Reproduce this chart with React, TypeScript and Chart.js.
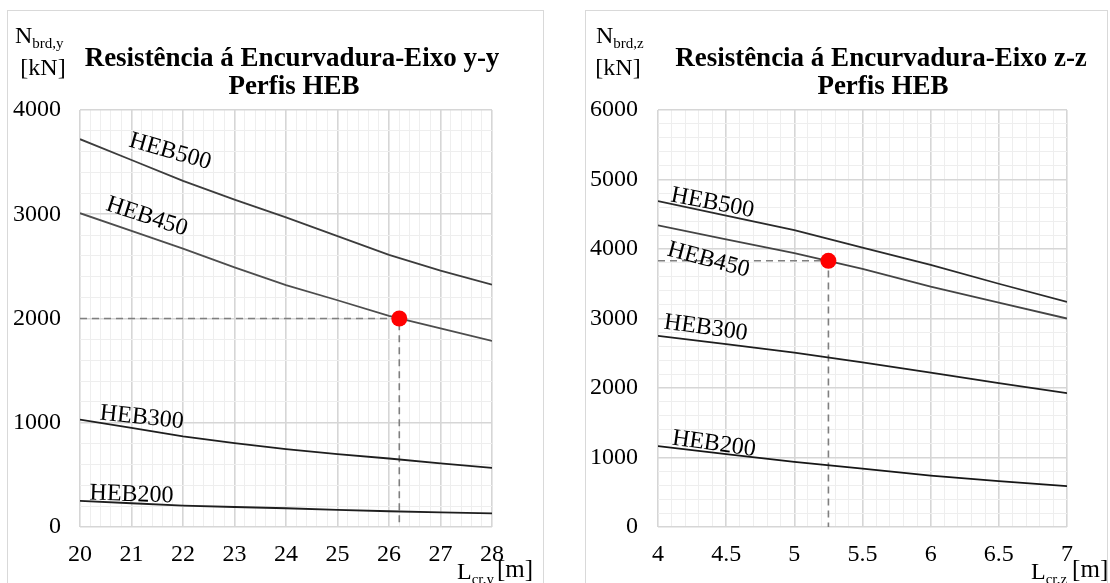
import React, { useEffect, useRef } from "react";
import { Chart, registerables } from "chart.js";
Chart.register(...registerables);

const FONT = "'Liberation Serif', 'Times New Roman', serif";

// ---------- Left chart: buckling about y-y ----------
const rangeLy = [20, 28];
const lengthsY = [20, 21, 22, 23, 24, 25, 26, 27, 28];
const heb500Y = [3720, 3520, 3320, 3140, 2970, 2790, 2610, 2460, 2325];
const heb450Y = [3010, 2840, 2670, 2490, 2320, 2175, 2025, 1905, 1785];
const heb300Y = [1030, 950, 870, 805, 747, 700, 657, 610, 567];
const heb200Y = [250, 228, 205, 192, 180, 165, 151, 141, 131];
const markerLy = [26.2];
const markerNy = [2000];
const rangeNy = [0, 4000];

// ---------- Right chart: buckling about z-z ----------
const rangeLz = [4, 7];
const lengthsZ = [4, 4.5, 5, 5.5, 6, 6.5, 7];
const heb500Z = [4690, 4480, 4270, 4020, 3770, 3500, 3240];
const heb450Z = [4340, 4140, 3940, 3715, 3460, 3230, 3000];
const heb300Z = [2750, 2630, 2510, 2370, 2220, 2070, 1925];
const heb200Z = [1165, 1050, 937, 840, 740, 660, 587];
const markerLz = [5.25];
const markerNz = [3830];
const rangeNz = [0, 6000];

// ---------- Series labels (names + anchor in data units + angle) ----------
const seriesNames = ["HEB500", "HEB450", "HEB300", "HEB200"];
const labelLy = [21.75, 21.3, 21.2, 21.0];
const labelNy = [3600, 2975, 1050, 310];
const labelAngY = [16, 18, 6, 2];
const labelLz = [4.4, 4.37, 4.35, 4.41];
const labelNz = [4662, 3842, 2863, 1194];
const labelAngZ = [11, 15, 8, 8];

const titleY = ["Resistência á Encurvadura-Eixo y-y", "Perfis HEB"];
const titleZ = ["Resistência á Encurvadura-Eixo z-z", "Perfis HEB"];

const seriesColorsY = ["#3c3c3c", "#4d4d4d", "#1e1e1e", "#1e1e1e"];
const seriesColorsZ = ["#2a2a2a", "#444444", "#1e1e1e", "#161616"];

function pts(xs: number[], ys: number[]) {
  return xs.map((x, i) => ({ x, y: ys[i] }));
}

function drawSub(ctx: CanvasRenderingContext2D, x: number, y: number, main: string, sub: string, after: string, gap: number) {
  ctx.font = `24px ${FONT}`;
  ctx.textAlign = "left";
  ctx.textBaseline = "alphabetic";
  ctx.fillText(main, x, y);
  const w1 = ctx.measureText(main).width;
  ctx.font = `15px ${FONT}`;
  ctx.fillText(sub, x + w1, y + 5);
  const w2 = ctx.measureText(sub).width;
  if (after) {
    ctx.font = `25px ${FONT}`;
    ctx.fillText(after, x + w1 + w2 + gap, y - 2);
  }
}

type Opts = {
  xsArr: number[];
  series: number[][];
  colors: string[];
  xRange: number[];
  yRange: number[];
  xStep: number;
  xMajor: number;
  markerX: number[];
  markerY: number[];
  labX: number[];
  labY: number[];
  labA: number[];
  title: string[];
  titleCx: number;
  areaLeft: number;
  areaRight: number;
  yPad: number;
  box: number[];
  nLabel: { x: number; sub: string; kx: number };
  lLabel: { x: number; sub: string; after: string; gap: number };
};

function buildConfig(o: Opts): any {
  const isMajorX = (v: number) => Math.abs(v / o.xMajor - Math.round(v / o.xMajor)) < 1e-6;
  const isMajorY = (v: number) => Math.abs(v / 1000 - Math.round(v / 1000)) < 1e-6;
  const datasets: any[] = o.series.map((s, i) => ({
    label: seriesNames[i],
    data: pts(o.xsArr, s),
    borderColor: o.colors[i],
    borderWidth: 1.8,
    pointRadius: 0,
    tension: 0,
    fill: false,
    order: 2,
  }));
  datasets.push({
    label: "ref",
    data: [
      { x: o.xRange[0], y: o.markerY[0] },
      { x: o.markerX[0], y: o.markerY[0] },
      { x: o.markerX[0], y: o.yRange[0] },
    ],
    borderColor: "#7f7f7f",
    borderWidth: 1.6,
    borderDash: [7, 5],
    pointRadius: 0,
    fill: false,
    order: 3,
  });
  datasets.push({
    label: "marker",
    data: pts(o.markerX, o.markerY),
    showLine: false,
    pointRadius: 8,
    pointBackgroundColor: "#ff0000",
    pointBorderWidth: 0,
    pointBorderColor: "#ff0000",
    order: 0,
  });

  const decor = {
    id: "decor",
    beforeDraw(chart: any) {
      const ctx = chart.ctx;
      ctx.save();
      ctx.strokeStyle = "#d9d9d9";
      ctx.lineWidth = 1;
      ctx.strokeRect(o.box[0], o.box[1], o.box[2], o.box[3]);
      ctx.restore();
    },
    afterDraw(chart: any) {
      const ctx = chart.ctx;
      const xs = chart.scales.x;
      const ys = chart.scales.y;
      ctx.save();
      ctx.fillStyle = "#000";
      // title
      ctx.font = `bold 27px ${FONT}`;
      ctx.textAlign = "center";
      ctx.textBaseline = "alphabetic";
      ctx.fillText(o.title[0], o.titleCx, 66);
      ctx.fillText(o.title[1], o.titleCx + 2, 94);
      // y-axis name
      drawSub(ctx, o.nLabel.x, 43, "N", o.nLabel.sub, "", 0);
      ctx.font = `24px ${FONT}`;
      ctx.textAlign = "center";
      ctx.fillText("[kN]", o.nLabel.kx, 75);
      // x-axis name
      drawSub(ctx, o.lLabel.x, 579, "L", o.lLabel.sub, o.lLabel.after, o.lLabel.gap);
      // series labels
      ctx.font = `24px ${FONT}`;
      ctx.textAlign = "center";
      ctx.textBaseline = "middle";
      seriesNames.forEach((name, i) => {
        ctx.save();
        ctx.translate(xs.getPixelForValue(o.labX[i]), ys.getPixelForValue(o.labY[i]));
        ctx.rotate((o.labA[i] * Math.PI) / 180);
        ctx.fillText(name, 0, 0);
        ctx.restore();
      });
      ctx.restore();
    },
  };

  return {
    type: "line",
    data: { datasets },
    plugins: [decor],
    options: {
      responsive: false,
      animation: false,
      devicePixelRatio: 1,
      layout: { padding: { left: 0, top: 110, right: 555 - o.areaRight, bottom: 0 } },
      plugins: { legend: { display: false }, tooltip: { enabled: false }, title: { display: false } },
      scales: {
        x: {
          type: "linear",
          min: o.xRange[0],
          max: o.xRange[1],
          afterFit: (s: any) => {
            s.height = 56;
          },
          ticks: {
            stepSize: o.xStep,
            autoSkip: false,
            maxRotation: 0,
            padding: 13,
            color: "#000",
            font: { family: FONT, size: 24 },
            callback: (v: any) => (isMajorX(Number(v)) ? String(Math.round(Number(v) * 10) / 10) : ""),
          },
          grid: {
            drawTicks: false,
            color: (c: any) => (isMajorX(c.tick.value) ? "#d6d6d6" : "#eeeeee"),
            lineWidth: (c: any) => (isMajorX(c.tick.value) ? 1.6 : 1),
          },
          border: { display: false },
        },
        y: {
          type: "linear",
          min: o.yRange[0],
          max: o.yRange[1],
          afterFit: (s: any) => {
            s.width = o.areaLeft;
          },
          ticks: {
            stepSize: 200,
            autoSkip: false,
            padding: o.yPad,
            color: "#000",
            font: { family: FONT, size: 24 },
            callback: (v: any) => (isMajorY(Number(v)) ? String(Number(v)) : ""),
          },
          grid: {
            drawTicks: false,
            color: (c: any) => (isMajorY(c.tick.value) ? "#d6d6d6" : "#eeeeee"),
            lineWidth: (c: any) => (isMajorY(c.tick.value) ? 1.6 : 1),
          },
          border: { display: false },
        },
      },
    },
  };
}

const leftOpts: Opts = {
  xsArr: lengthsY,
  series: [heb500Y, heb450Y, heb300Y, heb200Y],
  colors: seriesColorsY,
  xRange: rangeLy,
  yRange: rangeNy,
  xStep: 0.2,
  xMajor: 1,
  markerX: markerLy,
  markerY: markerNy,
  labX: labelLy,
  labY: labelNy,
  labA: labelAngY,
  title: titleY,
  titleCx: 292,
  areaLeft: 80,
  areaRight: 492,
  yPad: 19,
  box: [7.5, 10.5, 536, 700],
  nLabel: { x: 15, sub: "brd,y", kx: 43 },
  lLabel: { x: 457, sub: "cr,y", after: "[m]", gap: 3 },
};

const rightOpts: Opts = {
  xsArr: lengthsZ,
  series: [heb500Z, heb450Z, heb300Z, heb200Z],
  colors: seriesColorsZ,
  xRange: rangeLz,
  yRange: rangeNz,
  xStep: 0.1,
  xMajor: 0.5,
  markerX: markerLz,
  markerY: markerNz,
  labX: labelLz,
  labY: labelNz,
  labA: labelAngZ,
  title: titleZ,
  titleCx: 326,
  areaLeft: 103,
  areaRight: 512,
  yPad: 20,
  box: [30.5, 10.5, 522, 700],
  nLabel: { x: 41, sub: "brd,z", kx: 63 },
  lLabel: { x: 476, sub: "cr,z", after: "[m]", gap: 5 },
};

function Panel({ opts, left }: { opts: Opts; left: number }) {
  const ref = useRef<HTMLCanvasElement>(null);
  useEffect(() => {
    const chart = new Chart(ref.current as HTMLCanvasElement, buildConfig(opts));
    return () => chart.destroy();
  }, []);
  return (
    <canvas
      ref={ref}
      width={555}
      height={583}
      style={{ position: "absolute", left, top: 0, width: 555, height: 583, display: "block" }}
    />
  );
}

export default function App() {
  return (
    <div
      style={{
        position: "fixed",
        left: 0,
        top: 0,
        width: 1110,
        height: 583,
        overflow: "hidden",
        background: "#fff",
      }}
    >
      <Panel opts={leftOpts} left={0} />
      <Panel opts={rightOpts} left={555} />
    </div>
  );
}
